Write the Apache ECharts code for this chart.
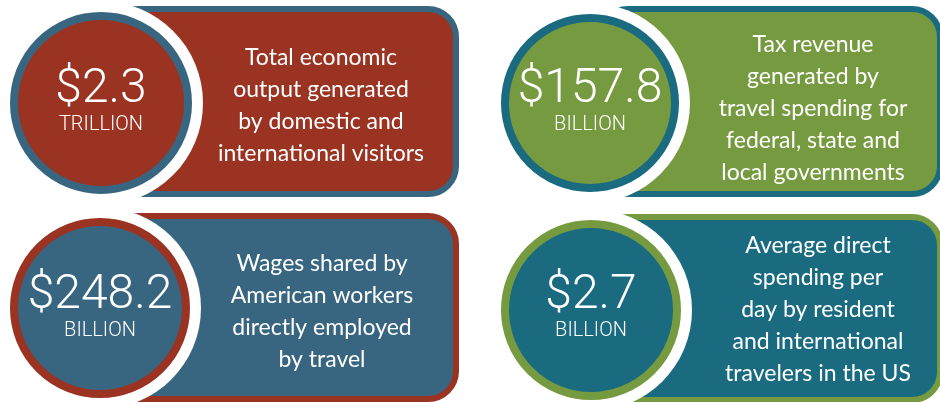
<!DOCTYPE html>
<html>
<head>
<meta charset="utf-8">
<script src="https://cdn.jsdelivr.net/npm/echarts@6/dist/echarts.min.js"></script>
<style>
  html, body { margin: 0; padding: 0; background: #ffffff; }
  #chart { width: 940px; height: 402px; }
</style>
</head>
<body>
<div id="chart"></div>
<script>
// figures shown in the four tiles
const amounts = ["$2.3", "$157.8", "$248.2", "$2.7"];
const units = ["TRILLION", "BILLION", "BILLION", "BILLION"];
const descriptions = [
  "Total economic\noutput generated\nby domestic and\ninternational visitors",
  "Tax revenue\ngenerated by\ntravel spending for\nfederal, state and\nlocal governments",
  "Wages shared by\nAmerican workers\ndirectly employed\nby travel",
  "Average direct\nspending per\nday by resident\nand international\ntravelers in the US"
];
const fillColors = ["#9a3322", "#769a40", "#386580", "#1a6b80"];
const borderColors = ["#386580", "#1a6b80", "#9a3322", "#769a40"];

// tile geometry
const tiles = [
  { cx: 101, cy: 103, r: 91, rect: [110, 9, 346, 185], tx: 321, ty: 106, ny: 90, uy: 125 },
  { cx: 590, cy: 103, r: 89, rect: [600, 9, 340, 185], tx: 813, ty: 109, ny: 90, uy: 125 },
  { cx: 100, cy: 308, r: 90, rect: [110, 216, 346, 183], tx: 322, ty: 312, ny: 296, uy: 331 },
  { cx: 591, cy: 310, r: 90, rect: [600, 217, 340, 183], tx: 818, ty: 310, ny: 296, uy: 331 }
];

const chart = echarts.init(document.getElementById("chart"));

const elements = [];
tiles.forEach(function (t, i) {
  elements.push({
    type: "rect",
    shape: { x: t.rect[0], y: t.rect[1], width: t.rect[2], height: t.rect[3], r: 28 },
    style: { fill: fillColors[i], stroke: borderColors[i], lineWidth: 6 },
    z: 1
  });
  // white gap around the disc
  elements.push({
    type: "circle",
    shape: { cx: t.cx, cy: t.cy, r: t.r + 11 },
    style: { fill: "#ffffff" },
    z: 2
  });
  elements.push({
    type: "circle",
    shape: { cx: t.cx, cy: t.cy, r: t.r - 4 },
    style: { fill: fillColors[i], stroke: borderColors[i], lineWidth: 8 },
    z: 3
  });
  elements.push({
    type: "text",
    x: t.cx,
    y: t.ny,
    style: {
      text: amounts[i],
      fill: "#ffffff",
      font: "300 48px Roboto",
      textAlign: "center",
      textVerticalAlign: "middle"
    },
    z: 4
  });
  elements.push({
    type: "text",
    x: t.cx,
    y: t.uy,
    style: {
      text: units[i],
      fill: "#ffffff",
      font: "300 20px Roboto",
      textAlign: "center",
      textVerticalAlign: "middle"
    },
    z: 4
  });
  elements.push({
    type: "text",
    x: t.tx,
    y: t.ty,
    style: {
      text: descriptions[i],
      fill: "#ffffff",
      font: "23px Lato",
      lineHeight: 32,
      textAlign: "center",
      textVerticalAlign: "middle"
    },
    z: 4
  });
});

chart.setOption({
  backgroundColor: "#ffffff",
  graphic: { elements: elements }
});
</script>
</body>
</html>
